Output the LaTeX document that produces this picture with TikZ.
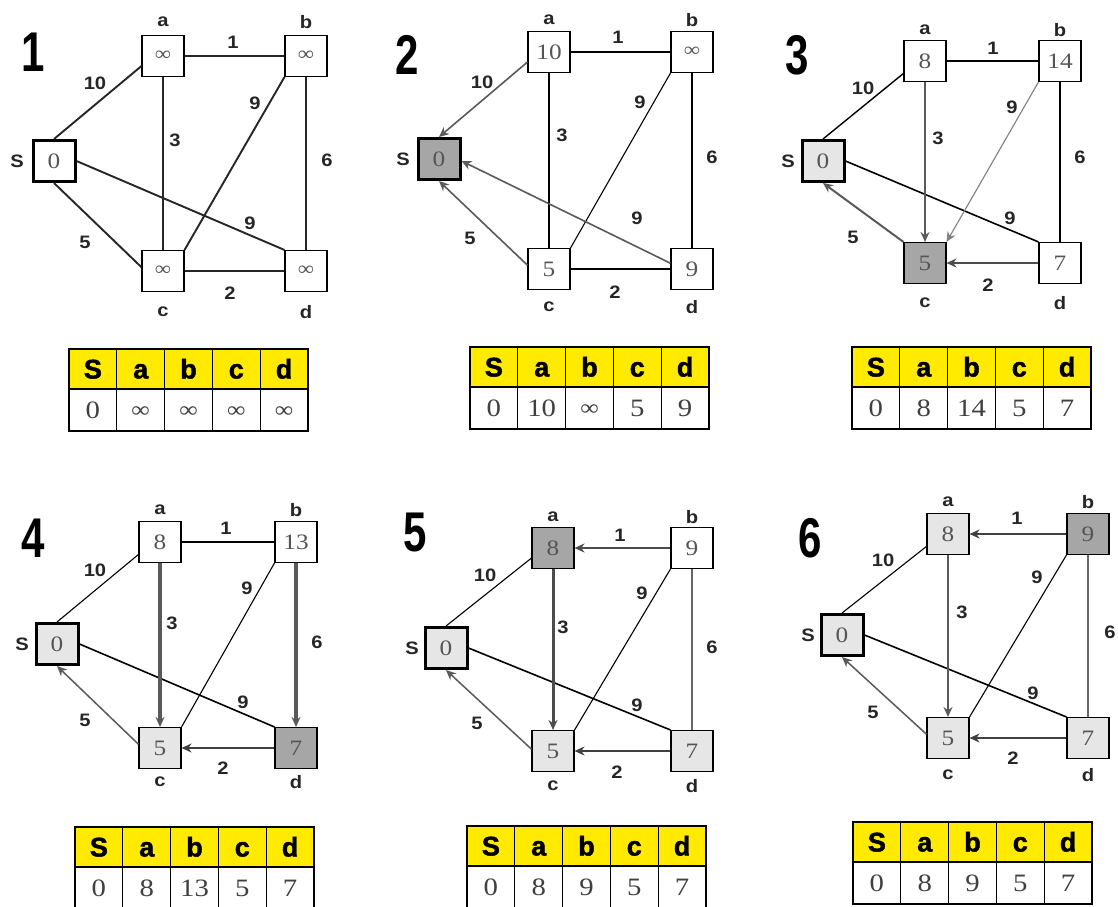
\documentclass[tikz,border=0pt]{standalone}
\usepackage{fontspec}
\setmainfont{Liberation Serif}
\newfontfamily\sansf[FakeStretch=1.12]{Liberation Sans}
\newfontfamily\hdrf[FakeBold=1.6]{Liberation Sans}
\newfontfamily\numf[FakeStretch=0.75]{Liberation Sans}
\newfontfamily\valf[FakeStretch=1.15]{Liberation Serif}
\usetikzlibrary{arrows.meta}
\definecolor{valgray}{HTML}{555555}
\definecolor{darkfill}{HTML}{A6A6A6}
\definecolor{lightfill}{HTML}{E6E6E6}
\definecolor{hdr}{HTML}{FFEA00}
\definecolor{arrg}{HTML}{5A5A5A}
\newcommand\inff{\raisebox{1pt}{\scalebox{0.9}{∞}}}
\tikzset{
  vbox/.style={draw=black, line width=1.1pt, minimum width=42pt, minimum height=41pt, inner sep=0pt, fill=white, text=valgray, font=\valf\fontsize{22}{22}\selectfont},
  sbox/.style={vbox, line width=3pt},
  dk/.style={fill=darkfill},
  lt/.style={fill=lightfill},
  vlab/.style={font=\sansf\bfseries\fontsize{18}{18}\selectfont, text=black!85, inner sep=0pt},
  elab/.style={font=\sansf\bfseries\fontsize{18}{18}\selectfont, text=black!85, inner sep=0pt},
  pnum/.style={font=\numf\bfseries\fontsize{56}{56}\selectfont, inner sep=0pt},
  ln/.style={draw=black, line width=1.1pt},
  lnA/.style={draw=black!85, line width=1.9pt},
  arr/.style={-{Stealth[length=10pt,width=9pt]}, draw=arrg, line width=1.6pt},
  hcell/.style={draw=black, line width=1.2pt, fill=hdr, minimum width=47.8pt, minimum height=40pt, inner sep=0pt, text height=19pt, text depth=0pt, font=\hdrf\bfseries\fontsize{27}{27}\selectfont},
  bcell/.style={draw=black, line width=1.2pt, fill=white, minimum width=47.8pt, minimum height=42pt, inner sep=0pt, text height=17pt, text depth=0pt, text=black!75, font=\valf\fontsize{25}{25}\selectfont}
}
\newcommand\dtab[4]{%
  \foreach \l [count=\i from 0] in {S,a,b,c,d}{
    \node[hcell] (#1h\i) at (#2+47.8*\i+23.9, #3+20) {\l};
  }
  \foreach \v [count=\i from 0] in {#4}{
    \node[bcell] (#1v\i) at (#2+47.8*\i+23.9, #3+61) {\v};
  }
  \draw[line width=1.6pt] (#2,#3) rectangle (#2+239,#3+82);
}
\begin{document}
\begin{tikzpicture}[x=1pt, y=-1pt]
\fill[white] (0,0) rectangle (1118,906);
\useasboundingbox (0,0) rectangle (1118,906);

% ---------------- Panel 1
\node[pnum] (n1) at (33,52) {1};
\node[vbox] (a1) at (163,56) {\inff};
\node[vbox] (b1) at (306,56) {\inff};
\node[sbox] (S1) at (54,161) {0};
\node[vbox] (c1) at (163,271) {\inff};
\node[vbox] (d1) at (306,271) {\inff};
\node[vlab] (la1) at (163,22) {a};
\node[vlab] (lb1) at (306,22) {b};
\node[vlab] (lc1) at (163,312) {c};
\node[vlab] (ld1) at (306,312) {d};
\node[vlab] (lS1) at (17,161) {S};
\draw[lnA] (S1.north) -- (a1.205);
\draw[lnA] (S1.south) -- (c1.170);
\draw[lnA] (S1.east) -- (d1.north west);
\draw[lnA] (a1.east) -- (b1.west);
\draw[lnA] (a1.south) -- (c1.north);
\draw[lnA] (b1.south west) -- (c1.north east);
\draw[lnA] (b1.south) -- (d1.north);
\draw[lnA] (c1.east) -- (d1.west);
\node[elab] (e1ab) at (233,42) {1};
\node[elab] (e1Sa) at (95,83) {10};
\node[elab] (e1ac) at (175,140) {3};
\node[elab] (e1bc) at (255,103) {9};
\node[elab] (e1bd) at (327,160) {6};
\node[elab] (e1Sd) at (250,223) {9};
\node[elab] (e1Sc) at (85,242) {5};
\node[elab] (e1cd) at (230,293) {2};

% ---------------- Panel 2
\node[pnum] (n2) at (407,55) {2};
\node[vbox] (a2) at (549,52) {10};
\node[vbox] (b2) at (692,52) {\inff};
\node[sbox,dk] (S2) at (439,159) {0};
\node[vbox] (c2) at (549,269) {5};
\node[vbox] (d2) at (692,269) {9};
\node[vlab] (la2) at (549,20) {a};
\node[vlab] (lb2) at (692,20) {b};
\node[vlab] (lc2) at (549,307) {c};
\node[vlab] (ld2) at (692,307) {d};
\node[vlab] (lS2) at (403,159) {S};
\draw[ln] (a2.east) -- (b2.west);
\draw[ln] (a2.south) -- (c2.north);
\draw[ln] (b2.south west) -- (c2.north east);
\draw[ln] (b2.south) -- (d2.north);
\draw[ln] (c2.east) -- (d2.west);
\draw[arr] (a2.205) -- (S2.north);
\draw[arr] (c2.170) -- (S2.south);
\draw[arr] (d2.165) -- (S2.-5);
\node[elab] (e2ab) at (618,37) {1};
\node[elab] (e2Sa) at (482,82) {10};
\node[elab] (e2ac) at (562,135) {3};
\node[elab] (e2bc) at (640,102) {9};
\node[elab] (e2bd) at (712,157) {6};
\node[elab] (e2Sd) at (637,218) {9};
\node[elab] (e2Sc) at (470,238) {5};
\node[elab] (e2cd) at (615,292) {2};

% ---------------- Panel 3
\node[pnum] (n3) at (797,55) {3};
\node[vbox] (a3) at (925,61) {8};
\node[vbox] (b3) at (1060,61) {14};
\node[sbox,lt] (S3) at (823,161) {0};
\node[vbox,dk] (c3) at (925,263) {5};
\node[vbox] (d3) at (1060,263) {7};
\node[vlab] (la3) at (925,30) {a};
\node[vlab] (lb3) at (1060,30) {b};
\node[vlab] (lc3) at (925,303) {c};
\node[vlab] (ld3) at (1060,303) {d};
\node[vlab] (lS3) at (788,161) {S};
\draw[ln, line width=1.4pt] (S3.north) -- (a3.210);
\draw[ln, line width=1.6pt] (S3.east) -- (d3.north west);
\draw[ln] (a3.east) -- (b3.west);
\draw[ln] (b3.south) -- (d3.north);
\draw[arr, line width=2pt] (a3.south) -- (c3.north);
\draw[arr, line width=1.1pt, draw=black!50] (b3.south west) -- (c3.north east);
\draw[arr, line width=2pt] (c3.north west) -- (S3.south);
\draw[arr, line width=2.5pt, draw=black!70] (d3.west) -- (c3.east);
\node[elab] (e3ab) at (993,48) {1};
\node[elab] (e3Sa) at (863,88) {10};
\node[elab] (e3ac) at (938,138) {3};
\node[elab] (e3bc) at (1012,107) {9};
\node[elab] (e3bd) at (1080,157) {6};
\node[elab] (e3Sd) at (1010,218) {9};
\node[elab] (e3Sc) at (853,237) {5};
\node[elab] (e3cd) at (988,285) {2};

% ---------------- Panel 4
\node[pnum] (n4) at (33,538) {4};
\node[vbox] (a4) at (160,542) {8};
\node[vbox] (b4) at (296,542) {13};
\node[sbox,lt] (S4) at (57,644) {0};
\node[vbox,lt] (c4) at (160,748) {5};
\node[vbox,dk] (d4) at (296,748) {7};
\node[vlab] (la4) at (160,510) {a};
\node[vlab] (lb4) at (296,510) {b};
\node[vlab] (lc4) at (160,782) {c};
\node[vlab] (ld4) at (296,782) {d};
\node[vlab] (lS4) at (22,644) {S};
\draw[ln] (S4.north) -- (a4.210);
\draw[ln] (a4.east) -- (b4.west);
\draw[ln] (b4.south west) -- (c4.north east);
\draw[ln, line width=1.6pt] (S4.east) -- (d4.north west);
\draw[arr, line width=4pt, draw=black!65] (a4.south) -- (c4.north);
\draw[arr, line width=4pt, draw=black!65] (b4.south) -- (d4.north);
\draw[arr, line width=2.5pt, draw=black!75] (d4.west) -- (c4.east);
\draw[arr, line width=1.5pt] (c4.170) -- (S4.south);
\node[elab] (e4ab) at (226,528) {1};
\node[elab] (e4Sa) at (95,570) {10};
\node[elab] (e4ac) at (172,623) {3};
\node[elab] (e4bc) at (247,588) {9};
\node[elab] (e4bd) at (317,642) {6};
\node[elab] (e4Sd) at (243,702) {9};
\node[elab] (e4Sc) at (85,720) {5};
\node[elab] (e4cd) at (223,768) {2};

% ---------------- Panel 5
\node[pnum] (n5) at (415,532) {5};
\node[vbox,dk] (a5) at (553,548) {8};
\node[vbox] (b5) at (692,548) {9};
\node[sbox,lt] (S5) at (446,648) {0};
\node[vbox,lt] (c5) at (553,751) {5};
\node[vbox,lt] (d5) at (692,751) {7};
\node[vlab] (la5) at (553,517) {a};
\node[vlab] (lb5) at (692,517) {b};
\node[vlab] (lc5) at (553,786) {c};
\node[vlab] (ld5) at (692,786) {d};
\node[vlab] (lS5) at (412,648) {S};
\draw[ln] (S5.north) -- (a5.205);
\draw[ln, line width=1.6pt] (S5.east) -- (d5.north west);
\draw[ln] (b5.south west) -- (c5.north east);
\draw[ln, draw=black!60] (b5.south) -- (d5.north);
\draw[arr, line width=2pt, draw=black!70] (b5.west) -- (a5.east);
\draw[arr, line width=3pt, draw=black!70] (a5.south) -- (c5.north);
\draw[arr, line width=1.5pt] (c5.175) -- (S5.south);
\draw[arr, line width=2pt, draw=black!75] (d5.west) -- (c5.east);
\node[elab] (e5ab) at (620,535) {1};
\node[elab] (e5Sa) at (485,575) {10};
\node[elab] (e5ac) at (563,627) {3};
\node[elab] (e5bc) at (642,593) {9};
\node[elab] (e5bd) at (712,647) {6};
\node[elab] (e5Sd) at (637,705) {9};
\node[elab] (e5Sc) at (477,723) {5};
\node[elab] (e5cd) at (617,772) {2};

% ---------------- Panel 6
\node[pnum] (n6) at (810,538) {6};
\node[vbox,lt] (a6) at (948,534) {8};
\node[vbox,dk] (b6) at (1088,534) {9};
\node[sbox,lt] (S6) at (842,635) {0};
\node[vbox,lt] (c6) at (948,738) {5};
\node[vbox,lt] (d6) at (1088,738) {7};
\node[vlab] (la6) at (948,502) {a};
\node[vlab] (lb6) at (1088,502) {b};
\node[vlab] (lc6) at (948,775) {c};
\node[vlab] (ld6) at (1088,775) {d};
\node[vlab] (lS6) at (808,635) {S};
\draw[ln] (S6.north) -- (a6.210);
\draw[ln, line width=1.6pt] (S6.east) -- (d6.north west);
\draw[ln] (b6.south west) -- (c6.north east);
\draw[ln, draw=black!60] (b6.south) -- (d6.north);
\draw[arr, line width=2pt, draw=black!75] (b6.west) -- (a6.east);
\draw[arr, line width=1.5pt] (a6.south) -- (c6.north);
\draw[arr, line width=1.5pt] (c6.170) -- (S6.south);
\draw[arr, line width=2pt, draw=black!75] (d6.west) -- (c6.east);
\node[elab] (e6ab) at (1017,518) {1};
\node[elab] (e6Sa) at (883,560) {10};
\node[elab] (e6ac) at (962,612) {3};
\node[elab] (e6bc) at (1037,577) {9};
\node[elab] (e6bd) at (1110,632) {6};
\node[elab] (e6Sd) at (1033,693) {9};
\node[elab] (e6Sc) at (873,712) {5};
\node[elab] (e6cd) at (1013,758) {2};

% ---------------- Tables
\dtab{tA}{69}{349}{0,\inff,\inff,\inff,\inff}
\dtab{tB}{470}{347}{0,10,\inff,5,9}
\dtab{tC}{852}{347}{0,8,14,5,7}
\dtab{tD}{75}{827}{0,8,13,5,7}
\dtab{tE}{467}{826}{0,8,9,5,7}
\dtab{tF}{853}{822}{0,8,9,5,7}
\end{tikzpicture}
\end{document}
